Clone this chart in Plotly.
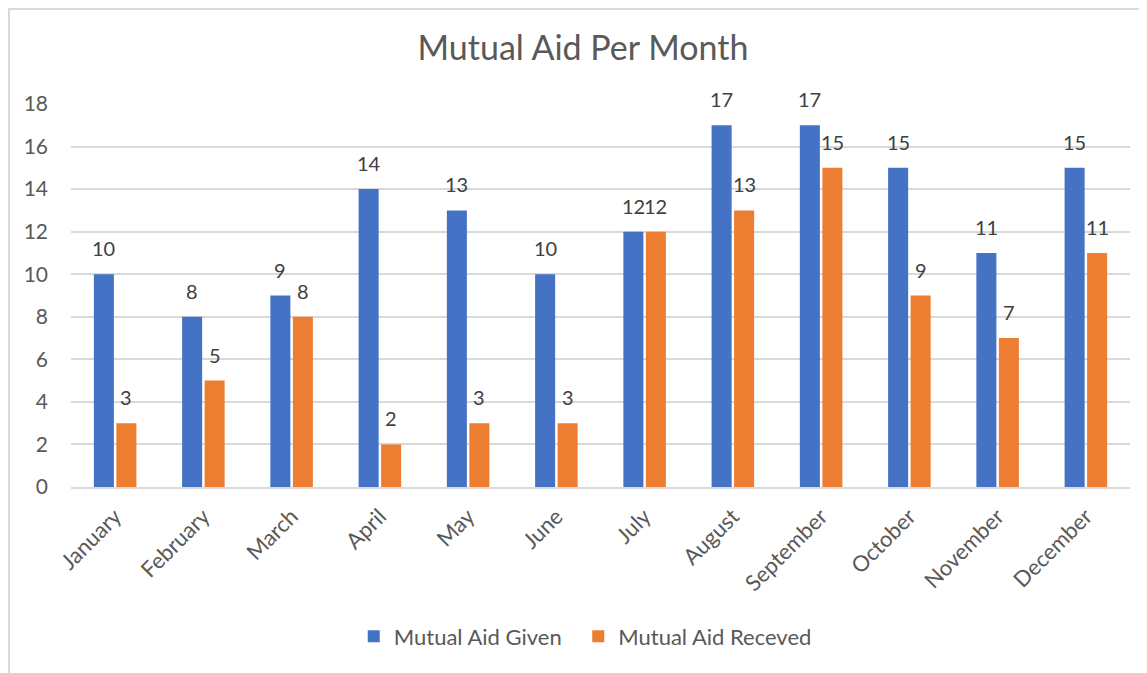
import plotly.graph_objects as go

# Colours (Office palette)
BLUE = "#4472C4"
ORANGE = "#ED7D31"
GRID = "#D9D9D9"
TEXT = "#595959"
LABEL = "#404040"
FONT = "Lato"

months = ["January", "February", "March", "April", "May", "June",
          "July", "August", "September", "October", "November", "December"]
aid_given = [10, 8, 9, 14, 13, 10, 12, 17, 17, 15, 11, 15]
aid_received = [3, 5, 8, 2, 3, 3, 12, 13, 15, 9, 7, 11]
y_ticks = [0, 2, 4, 6, 8, 10, 12, 14, 16, 18]

# the page body has an 8px margin, so the figure is sized to fit inside it
W, H = 1139, 665
BAR_SHIFT = 11.25  # px from category centre to each bar centre

fig = go.Figure()

series = [
    ("Mutual Aid Given", aid_given, BLUE, -BAR_SHIFT, "legend"),
    ("Mutual Aid Receved", aid_received, ORANGE, BAR_SHIFT, "legend2"),
]

annotations = []
for name, values, color, shift, leg in series:
    fig.add_trace(go.Bar(
        x=months,
        y=values,
        name=name,
        legend=leg,
        showlegend=True,
        marker=dict(color=color, line=dict(width=0)),
    ))
    # Excel puts its data labels a bit higher than plotly's outside text
    for m, v in zip(months, values):
        annotations.append(dict(
            x=m, y=v, xref="x", yref="y",
            text=str(v), showarrow=False,
            xanchor="center", yanchor="bottom",
            xshift=shift, yshift=12,
            font=dict(family=FONT, size=20, color=LABEL),
        ))

# Excel-like chart frame (runs off the right and bottom edges)
fig.add_shape(
    type="rect", xref="paper", yref="paper",
    x0=-0.0585, x1=1.05, y0=-0.55, y1=1.248,
    line=dict(color=GRID, width=2), fillcolor="rgba(0,0,0,0)",
    layer="below",
)

legend_style = dict(
    orientation="h",
    xanchor="left",
    y=-0.39, yanchor="middle",
    font=dict(family=FONT, size=22, color=TEXT),
    itemwidth=30,
    bgcolor="rgba(0,0,0,0)",
)

fig.update_layout(
    width=W,
    height=H,
    margin=dict(l=63, r=17, t=96, b=186),
    plot_bgcolor="white",
    paper_bgcolor="white",
    showlegend=True,
    barmode="group",
    bargap=0.49,
    bargroupgap=0.11,
    font=dict(family=FONT, color=TEXT),
    title=dict(
        text="Mutual Aid Per Month",
        x=575 / W, xref="container", xanchor="center",
        y=1 - 40 / H, yref="container", yanchor="middle",
        font=dict(family=FONT, size=34, color=TEXT),
    ),
    xaxis=dict(
        tickangle=-45,
        tickfont=dict(family=FONT, size=22, color=TEXT),
        showline=True, linecolor=GRID, linewidth=2,
        ticks="",
        ticklabelstandoff=6,
    ),
    yaxis=dict(
        range=[0, 18],
        tickvals=y_ticks,
        tickfont=dict(family=FONT, size=21, color=TEXT),
        showgrid=True, gridcolor=GRID, gridwidth=2,
        zeroline=False,
        ticklabelstandoff=22,
    ),
    legend=dict(x=0.267, **legend_style),
    legend2=dict(x=0.479, **legend_style),
    annotations=annotations,
)

fig.write_html("out.html")
